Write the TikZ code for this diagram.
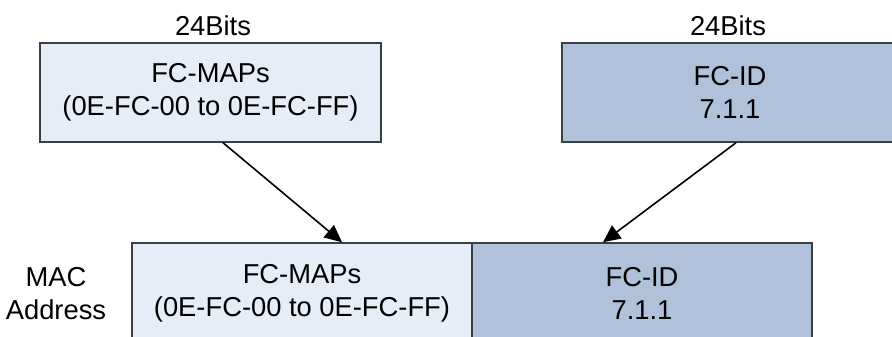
\documentclass[tikz,border=0pt]{standalone}
\usepackage{fontspec}
\setmainfont{Liberation Sans}
\usetikzlibrary{arrows.meta}
\definecolor{lightfill}{HTML}{E7EDF7}
\definecolor{darkfill}{HTML}{AFC2DA}
\definecolor{edge}{HTML}{3A3F45}
\tikzset{
  field/.style={draw=edge, line width=1.1pt, inner sep=0pt, align=center,
    font=\fontsize{20.5}{24.75}\selectfont, anchor=center},
  lbl/.style={inner sep=0pt, align=center, font=\fontsize{20.5}{24.75}\selectfont},
  conn/.style={line width=1.2pt, -{Triangle[length=13pt,width=12pt]}}
}
\begin{document}
\begin{tikzpicture}[x=0.75pt,y=-0.75pt]
\useasboundingbox (0,0) rectangle (892,336);
\clip (0,0) rectangle (892,336);
\node[field, fill=lightfill, minimum width=341*0.75pt, minimum height=99*0.75pt] (top1) at (210.5,92.5) {FC-MAPs\\(0E-FC-00 to 0E-FC-FF)};
\node[field, fill=darkfill, minimum width=336*0.75pt, minimum height=99*0.75pt] (top2) at (730,92.5) {FC-ID\\7.1.1};
\node[field, fill=lightfill, minimum width=340*0.75pt, minimum height=100*0.75pt] (bot1) at (302,293) {FC-MAPs\\(0E-FC-00 to 0E-FC-FF)};
\node[field, fill=darkfill, minimum width=340*0.75pt, minimum height=100*0.75pt] (bot2) at (642,293) {FC-ID\\7.1.1};
\node[lbl] (bits1) at (213,26) {24Bits};
\node[lbl] (bits2) at (728,26) {24Bits};
\node[lbl] (mac) at (56,294) {MAC\\Address};
\draw[conn] ([xshift=12.5*0.75pt]top1.south) -- ([xshift=40*0.75pt]bot1.north);
\draw[conn] ([xshift=6*0.75pt]top2.south) -- ([xshift=-39*0.75pt]bot2.north);
\end{tikzpicture}
\end{document}
